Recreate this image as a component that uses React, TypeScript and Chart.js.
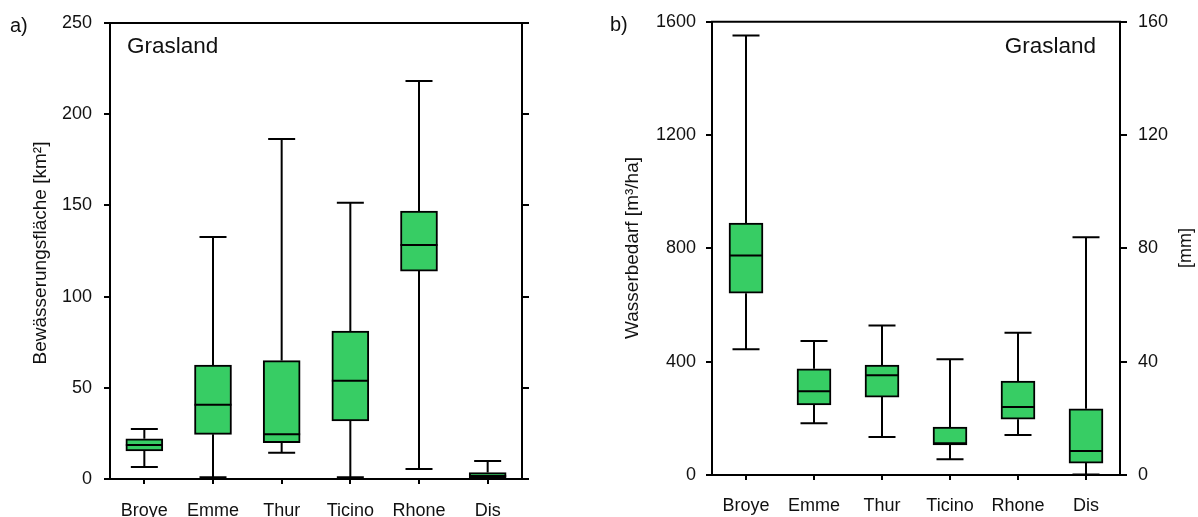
import React, { useEffect, useRef } from 'react';
import { Chart, registerables } from 'chart.js';

Chart.register(...registerables);

// ---------- data ----------
const categories = ['Broye', 'Emme', 'Thur', 'Ticino', 'Rhone', 'Dis'];

// a) Bewässerungsfläche [km²]
const areaMin = [6.6, 1.0, 14.4, 0.9, 5.5, 0.2];
const areaQ1 = [15.4, 24.5, 19.9, 31.8, 114.0, 0.4];
const areaMedian = [18.6, 40.7, 24.5, 53.9, 128.3, 1.6];
const areaQ3 = [22.0, 62.5, 64.9, 81.1, 146.9, 3.5];
const areaMax = [27.4, 132.7, 186.4, 151.5, 218.2, 9.9];

// b) Wasserbedarf [m³/ha]
const demandMin = [444, 183, 134, 56, 141, 2];
const demandQ1 = [642, 247, 275, 106, 197, 42];
const demandMedian = [775, 296, 352, 112, 240, 85];
const demandQ3 = [889, 375, 388, 169, 332, 234];
const demandMax = [1552, 473, 528, 409, 502, 839];

const areaTicks = { min: 0, max: 250, step: 50 };
const demandTicks = { min: 0, max: 1600, step: 400 };
const mmTicks = { min: 0, max: 160, step: 40 };

const FONT = '"Liberation Sans", Arial, Helvetica, sans-serif';
const GREEN = '#37CD64';
const TEXT = '#111';

type Stats = { min: number[]; q1: number[]; median: number[]; q3: number[]; max: number[] };

function whiskerPlugin(stats: Stats, capWidth: number) {
  return {
    id: 'whiskers',
    afterDatasetsDraw(chart: any) {
      const xs = chart.scales.x;
      const ys = chart.scales.y;
      const meta = chart.getDatasetMeta(0);
      const ctx = chart.ctx;
      ctx.save();
      ctx.strokeStyle = '#000';
      ctx.lineWidth = 2;
      ctx.lineCap = 'butt';
      stats.q1.forEach((_, i) => {
        const cx = xs.getPixelForValue(i);
        const el = meta.data[i];
        const half = el.width / 2;
        const yMin = ys.getPixelForValue(stats.min[i]);
        const yQ1 = ys.getPixelForValue(stats.q1[i]);
        const yMed = ys.getPixelForValue(stats.median[i]);
        const yQ3 = ys.getPixelForValue(stats.q3[i]);
        const yMax = ys.getPixelForValue(stats.max[i]);
        ctx.beginPath();
        ctx.moveTo(cx, yQ3);
        ctx.lineTo(cx, yMax);
        ctx.moveTo(cx - capWidth / 2, yMax);
        ctx.lineTo(cx + capWidth / 2, yMax);
        ctx.moveTo(cx, yQ1);
        ctx.lineTo(cx, yMin);
        ctx.moveTo(cx - capWidth / 2, yMin);
        ctx.lineTo(cx + capWidth / 2, yMin);
        ctx.moveTo(cx - half, yMed);
        ctx.lineTo(cx + half, yMed);
        ctx.stroke();
      });
      ctx.restore();
    },
  };
}

type Label = { text: string; x: number; y: number; size: number; align?: CanvasTextAlign; rotate?: boolean };

function textPlugin(labels: Label[]) {
  return {
    id: 'extraText',
    afterDraw(chart: any) {
      const ctx = chart.ctx;
      const area = chart.chartArea;
      ctx.save();
      ctx.strokeStyle = '#000';
      ctx.lineWidth = 2;
      ctx.beginPath();
      ctx.moveTo(area.left - 1, area.top);
      ctx.lineTo(area.right + 1, area.top);
      ctx.stroke();
      ctx.fillStyle = TEXT;
      ctx.textBaseline = 'middle';
      labels.forEach((l) => {
        ctx.font = `${l.size}px ${FONT}`;
        ctx.textAlign = l.align || 'left';
        if (l.rotate) {
          ctx.save();
          ctx.translate(l.x, l.y);
          ctx.rotate(-Math.PI / 2);
          ctx.textAlign = 'center';
          ctx.fillText(l.text, 0, 0);
          ctx.restore();
        } else {
          ctx.fillText(l.text, l.x, l.y);
        }
      });
      ctx.restore();
    },
  };
}

const tickGrid = (len: number) => ({
  display: true,
  drawOnChartArea: false,
  drawTicks: true,
  tickLength: len,
  color: '#000',
  lineWidth: 2,
});
const axisBorder = { display: true, color: '#000', width: 2 };
const plainNumber = (v: any) => String(v);

function makeConfig(opts: {
  stats: Stats;
  yRange: { min: number; max: number; step: number };
  rightRange: { min: number; max: number; step: number };
  rightLabels: boolean;
  leftWidth: number;
  rightWidth: number;
  padTop: number;
  padRight: number;
  xHeight: number;
  xPad: number;
  barThickness: number;
  capWidth: number;
  leftPad: number;
  rightPad: number;
  fontSize: number;
  labels: Label[];
}) {
  const s = opts.stats;
  return {
    type: 'bar',
    data: {
      labels: categories,
      datasets: [
        {
          data: s.q1.map((v, i) => [v, s.q3[i]]),
          backgroundColor: GREEN,
          borderColor: '#000',
          borderWidth: 2,
          borderSkipped: false,
          barThickness: opts.barThickness,
          yAxisID: 'y',
        },
      ],
    },
    options: {
      animation: false,
      responsive: false,
      maintainAspectRatio: false,
      layout: { padding: { top: opts.padTop, right: opts.padRight, bottom: 0, left: 0 } },
      plugins: { legend: { display: false }, tooltip: { enabled: false }, title: { display: false } },
      scales: {
        x: {
          type: 'category',
          offset: true,
          grid: { ...tickGrid(5), offset: false },
          border: axisBorder,
          ticks: {
            font: { family: FONT, size: opts.fontSize },
            color: TEXT,
            padding: opts.xPad,
            maxRotation: 0,
            autoSkip: false,
          },
          afterFit(sc: any) {
            sc.height = opts.xHeight;
          },
        },
        y: {
          position: 'left',
          min: opts.yRange.min,
          max: opts.yRange.max,
          ticks: {
            stepSize: opts.yRange.step,
            font: { family: FONT, size: opts.fontSize },
            color: TEXT,
            padding: opts.leftPad,
            callback: plainNumber,
          },
          grid: tickGrid(6),
          border: axisBorder,
          afterFit(sc: any) {
            sc.width = opts.leftWidth;
          },
        },
        y2: {
          position: 'right',
          min: opts.rightRange.min,
          max: opts.rightRange.max,
          ticks: {
            stepSize: opts.rightRange.step,
            display: opts.rightLabels,
            font: { family: FONT, size: opts.fontSize },
            color: TEXT,
            padding: opts.rightPad,
            callback: plainNumber,
          },
          grid: tickGrid(7),
          border: axisBorder,
          afterFit(sc: any) {
            sc.width = opts.rightWidth;
          },
        },
      },
    },
    plugins: [whiskerPlugin(s, opts.capWidth), textPlugin(opts.labels)],
  };
}

function ChartCanvas({ config, left }: { config: any; left: number }) {
  const ref = useRef<HTMLCanvasElement | null>(null);
  useEffect(() => {
    if (!ref.current) return;
    const chart = new Chart(ref.current, config);
    return () => chart.destroy();
  }, [config]);
  return (
    <canvas
      ref={ref}
      width={599}
      height={517}
      style={{ position: 'absolute', left, top: 0, width: 599, height: 517 }}
    />
  );
}

const configA = makeConfig({
  stats: { min: areaMin, q1: areaQ1, median: areaMedian, q3: areaQ3, max: areaMax },
  yRange: areaTicks,
  rightRange: areaTicks,
  rightLabels: false,
  leftWidth: 110,
  rightWidth: 8,
  padTop: 23,
  padRight: 69,
  xHeight: 38,
  xPad: 16,
  barThickness: 37,
  capWidth: 27,
  leftPad: 12,
  rightPad: 0,
  fontSize: 18,
  labels: [
    { text: 'a)', x: 10, y: 26, size: 20 },
    { text: 'Grasland', x: 127, y: 47, size: 22.5 },
    { text: 'Bewässerungsfläche [km²]', x: 41, y: 253, size: 19, rotate: true },
  ],
});

const configB = makeConfig({
  stats: { min: demandMin, q1: demandQ1, median: demandMedian, q3: demandQ3, max: demandMax },
  yRange: demandTicks,
  rightRange: mmTicks,
  rightLabels: true,
  leftWidth: 113,
  rightWidth: 78,
  padTop: 21,
  padRight: 0,
  xHeight: 42,
  xPad: 15,
  barThickness: 34,
  capWidth: 27,
  leftPad: 10,
  rightPad: 11,
  fontSize: 18,
  labels: [
    { text: 'b)', x: 11, y: 25, size: 20 },
    { text: 'Grasland', x: 497, y: 47, size: 22.5, align: 'right' },
    { text: 'Wasserbedarf [m³/ha]', x: 34, y: 248, size: 19, rotate: true },
    { text: '[mm]', x: 587, y: 248, size: 18, rotate: true },
  ],
});

export default function App() {
  return (
    <div style={{ position: 'fixed', left: 0, top: 0, width: 1198, height: 517, background: '#fff' }}>
      <ChartCanvas config={configA} left={0} />
      <ChartCanvas config={configB} left={599} />
    </div>
  );
}
